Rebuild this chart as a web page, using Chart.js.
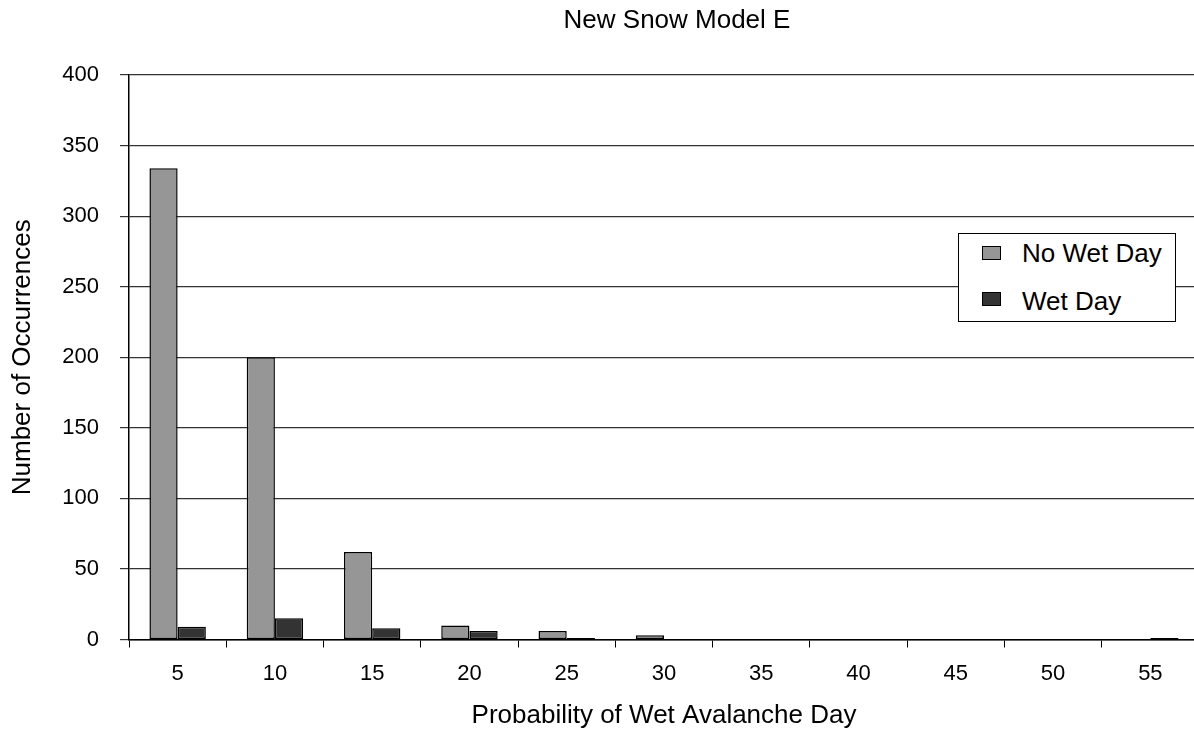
<!DOCTYPE html>
<html>
<head>
<meta charset="utf-8">
<script src="https://cdn.jsdelivr.net/npm/chart.js@4/dist/chart.umd.min.js"></script>
<style>
  html, body { margin: 0; padding: 0; background: #fff; overflow: hidden; }
  body { width: 1194px; height: 731px; position: relative; font-family: "Liberation Sans", Arial, sans-serif; }
  #wrap { position: absolute; left: 0; top: 0; width: 1200px; height: 731px; }
  #title { position: absolute; left: 0; top: 6px; width: 1354px; text-align: center; font-size: 26px; line-height: 26px; color: #000; }
  #legend { position: absolute; left: 958px; top: 233px; width: 216px; height: 87px; border: 1px solid #000; background: #fff; }
  .item { position: absolute; left: 0; font-size: 26px; line-height: 26px; color: #000; }
  .item span.sw { position: absolute; left: 23px; width: 17px; height: 12px; border: 1px solid #000; }
  .item span.tx { position: absolute; left: 63px; white-space: nowrap; }
</style>
</head>
<body>
<div id="wrap"><canvas id="c"></canvas></div>
<div id="title">New Snow Model E</div>
<div id="legend">
  <div class="item" style="top:6px"><span class="sw" style="top:6px;background:#969696"></span><span class="tx">No Wet Day</span></div>
  <div class="item" style="top:54px"><span class="sw" style="top:4px;background:#333333"></span><span class="tx">Wet Day</span></div>
</div>
<script>
// probability bins (%)
const categories = ['5', '10', '15', '20', '25', '30', '35', '40', '45', '50', '55'];
const noWetDay = [334, 200, 62, 10, 6, 3, 0, 0, 0, 0, 0];
const wetDay = [9, 15, 8, 6, 1, 0, 0, 0, 0, 0, 1];
const yTicks = [0, 50, 100, 150, 200, 250, 300, 350, 400];

const font = 'Liberation Sans';
// no outline on empty bins
const edge = ctx => (ctx.raw ? 1.5 : 0);

new Chart(document.getElementById('c'), {
  type: 'bar',
  data: {
    labels: categories,
    datasets: [
      {
        label: 'No Wet Day',
        data: noWetDay,
        backgroundColor: '#969696',
        borderColor: '#000',
        borderWidth: edge,
        borderSkipped: false
      },
      {
        label: 'Wet Day',
        data: wetDay,
        backgroundColor: '#333333',
        borderColor: '#000',
        borderWidth: edge,
        borderSkipped: false
      }
    ]
  },
  options: {
    responsive: true,
    maintainAspectRatio: false,
    animation: false,
    devicePixelRatio: 1,
    categoryPercentage: 0.58,
    barPercentage: 1,
    layout: { padding: { top: 75, right: 1, bottom: 0, left: 0 } },
    plugins: {
      legend: { display: false },
      tooltip: { enabled: false },
      title: { display: false }
    },
    scales: {
      x: {
        grid: { drawOnChartArea: false, drawTicks: true, tickLength: 8, color: '#000' },
        border: { color: '#000', width: 1.5 },
        ticks: { color: '#000', padding: 13, font: { family: font, size: 22 } },
        title: {
          display: true,
          text: 'Probability of Wet Avalanche Day',
          color: '#000',
          padding: { top: 0, bottom: 0 },
          font: { family: font, size: 26 }
        },
        afterFit: s => { s.height = 91.5; }
      },
      y: {
        min: 0,
        max: 400,
        afterBuildTicks: s => { s.ticks = yTicks.map(v => ({ value: v })); },
        grid: { color: '#333', lineWidth: 1.2, tickLength: 9 },
        border: { color: '#000', width: 1.5 },
        ticks: { color: '#000', padding: 21, font: { family: font, size: 22 } },
        title: {
          display: true,
          text: 'Number of Occurrences',
          color: '#000',
          padding: { top: 7, bottom: 0 },
          font: { family: font, size: 26 }
        },
        afterFit: s => { s.width = 129; }
      }
    }
  }
});
</script>
</body>
</html>
